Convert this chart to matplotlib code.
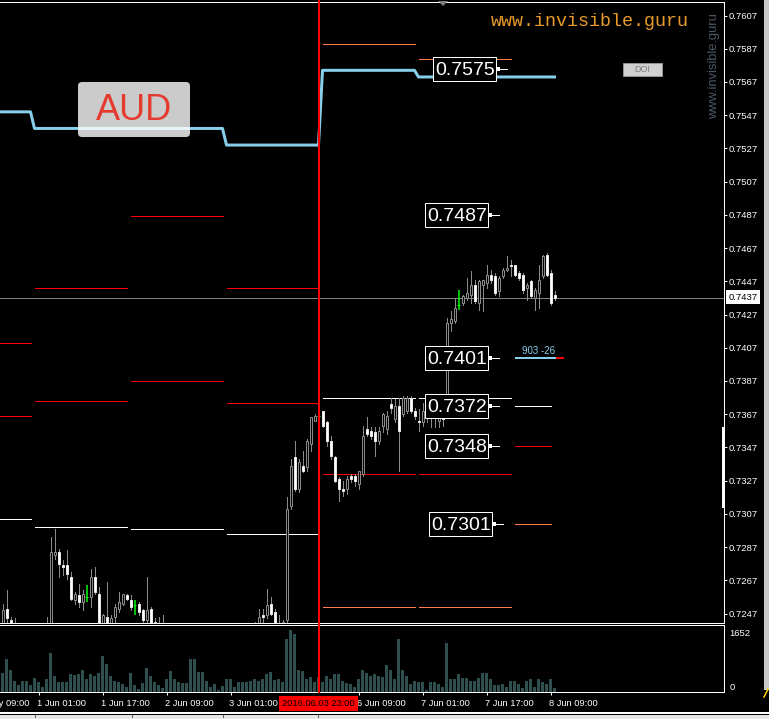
import matplotlib
matplotlib.use("Agg")
import matplotlib.pyplot as plt
import matplotlib.transforms as mtransforms
from matplotlib.patches import Rectangle, FancyBboxPatch, Polygon
from matplotlib.lines import Line2D

plt.rcParams['font.family'] = ['Liberation Sans', 'DejaVu Sans']

# ---------------- data (H1 bars, AUDUSD) ----------------
opens = [
0.7236, 0.7250, 0.7243, 0.7238, 0.7235, 0.7230, 0.7233, 0.7231, 0.7229, 0.7232,
0.7234, 0.7233, 0.7236, 0.7282, 0.7284, 0.7276, 0.7276, 0.7269, 0.7255, 0.7258,
0.7254, 0.7257, 0.7257, 0.7269, 0.7259, 0.7238, 0.7245, 0.7238, 0.7245, 0.7250,
0.7253, 0.7258, 0.7255, 0.7252, 0.7253, 0.7249, 0.7243, 0.7250, 0.7242, 0.7238,
0.7236, 0.7237, 0.7233, 0.7226, 0.7229, 0.7227, 0.7230, 0.7228, 0.7222, 0.7218,
0.7221, 0.7224, 0.7222, 0.7223, 0.7221, 0.7222, 0.7224, 0.7220, 0.7223, 0.7224,
0.7227, 0.7230, 0.7232, 0.7235, 0.7240, 0.7246, 0.7246, 0.7253, 0.7248, 0.7240,
0.7236, 0.7243, 0.7312, 0.7341, 0.7322, 0.7336, 0.7335, 0.7349, 0.7363, 0.7366,
0.7369, 0.7362, 0.7351, 0.7341, 0.7328, 0.7322, 0.7322, 0.7330, 0.7330, 0.7325,
0.7331, 0.7358, 0.7357, 0.7356, 0.7351, 0.7360, 0.7358, 0.7373, 0.7364, 0.7372,
0.7367, 0.7369, 0.7377, 0.7369, 0.7363, 0.7362, 0.7372, 0.7365, 0.7372, 0.7363,
0.7372, 0.7369, 0.7422, 0.7423, 0.7433, 0.7434, 0.7437, 0.7439, 0.7445, 0.7434,
0.7445, 0.7446, 0.7451, 0.7450, 0.7441, 0.7450, 0.7454, 0.7457, 0.7457, 0.7452,
0.7451, 0.7443, 0.7447, 0.7437, 0.7440, 0.7450, 0.7463, 0.7452, 0.7439]

highs = [
0.7253, 0.7261, 0.7245, 0.7244, 0.7239, 0.7236, 0.7238, 0.7235, 0.7234, 0.7237,
0.7238, 0.7245, 0.7293, 0.7298, 0.7286, 0.7279, 0.7285, 0.7272, 0.7260, 0.7265,
0.7261, 0.7264, 0.7274, 0.7275, 0.7263, 0.7247, 0.7266, 0.7246, 0.7253, 0.7260,
0.7259, 0.7259, 0.7258, 0.7255, 0.7254, 0.7250, 0.7269, 0.7251, 0.7244, 0.7245,
0.7246, 0.7240, 0.7236, 0.7231, 0.7233, 0.7231, 0.7234, 0.7238, 0.7229, 0.7224,
0.7227, 0.7228, 0.7225, 0.7226, 0.7223, 0.7225, 0.7230, 0.7226, 0.7225, 0.7229,
0.7232, 0.7234, 0.7238, 0.7242, 0.7250, 0.7250, 0.7262, 0.7257, 0.7250, 0.7246,
0.7243, 0.7317, 0.7340, 0.7351, 0.7340, 0.7345, 0.7352, 0.7365, 0.7367, 0.7368,
0.7369, 0.7363, 0.7354, 0.7342, 0.7329, 0.7327, 0.7330, 0.7331, 0.7331, 0.7333,
0.7360, 0.7365, 0.7359, 0.7359, 0.7359, 0.7368, 0.7369, 0.7377, 0.7376, 0.7377,
0.7378, 0.7378, 0.7378, 0.7371, 0.7370, 0.7374, 0.7377, 0.7375, 0.7377, 0.7377,
0.7377, 0.7425, 0.7429, 0.7437, 0.7442, 0.7439, 0.7449, 0.7453, 0.7448, 0.7448,
0.7448, 0.7457, 0.7454, 0.7452, 0.7450, 0.7455, 0.7462, 0.7460, 0.7457, 0.7453,
0.7452, 0.7446, 0.7448, 0.7443, 0.7457, 0.7463, 0.7464, 0.7454, 0.7441]

lows = [
0.7230, 0.7238, 0.7236, 0.7230, 0.7228, 0.7226, 0.7229, 0.7227, 0.7224, 0.7228,
0.7230, 0.7229, 0.7232, 0.7280, 0.7269, 0.7270, 0.7268, 0.7255, 0.7253, 0.7251,
0.7249, 0.7254, 0.7251, 0.7259, 0.7236, 0.7234, 0.7233, 0.7235, 0.7242, 0.7248,
0.7252, 0.7255, 0.7249, 0.7246, 0.7246, 0.7241, 0.7241, 0.7236, 0.7234, 0.7231,
0.7230, 0.7231, 0.7224, 0.7222, 0.7225, 0.7223, 0.7226, 0.7219, 0.7213, 0.7212,
0.7215, 0.7220, 0.7219, 0.7219, 0.7219, 0.7220, 0.7218, 0.7216, 0.7221, 0.7221,
0.7224, 0.7227, 0.7229, 0.7231, 0.7236, 0.7242, 0.7244, 0.7246, 0.7236, 0.7232,
0.7233, 0.7241, 0.7310, 0.7321, 0.7320, 0.7332, 0.7333, 0.7345, 0.7363, 0.7364,
0.7359, 0.7348, 0.7340, 0.7326, 0.7315, 0.7318, 0.7319, 0.7326, 0.7324, 0.7322,
0.7330, 0.7354, 0.7352, 0.7342, 0.7349, 0.7356, 0.7355, 0.7368, 0.7362, 0.7333,
0.7366, 0.7368, 0.7368, 0.7364, 0.7357, 0.7360, 0.7362, 0.7359, 0.7359, 0.7359,
0.7360, 0.7365, 0.7417, 0.7422, 0.7430, 0.7433, 0.7436, 0.7434, 0.7434, 0.7430,
0.7429, 0.7443, 0.7446, 0.7439, 0.7438, 0.7449, 0.7453, 0.7450, 0.7450, 0.7448,
0.7440, 0.7436, 0.7437, 0.7430, 0.7431, 0.7449, 0.7450, 0.7433, 0.7436]

closes = [
0.7249, 0.7244, 0.7241, 0.7235, 0.7230, 0.7233, 0.7231, 0.7229, 0.7232, 0.7234,
0.7233, 0.7238, 0.7284, 0.7284, 0.7277, 0.7275, 0.7271, 0.7256, 0.7259, 0.7254,
0.7259, 0.7257, 0.7269, 0.7260, 0.7240, 0.7246, 0.7238, 0.7244, 0.7251, 0.7254,
0.7259, 0.7256, 0.7251, 0.7252, 0.7248, 0.7243, 0.7249, 0.7240, 0.7239, 0.7236,
0.7237, 0.7233, 0.7226, 0.7229, 0.7227, 0.7230, 0.7228, 0.7222, 0.7218, 0.7221,
0.7224, 0.7222, 0.7223, 0.7221, 0.7222, 0.7224, 0.7220, 0.7223, 0.7224, 0.7227,
0.7230, 0.7232, 0.7235, 0.7238, 0.7245, 0.7245, 0.7252, 0.7247, 0.7240, 0.7238,
0.7242, 0.7310, 0.7336, 0.7322, 0.7338, 0.7333, 0.7351, 0.7365, 0.7366, 0.7366,
0.7360, 0.7351, 0.7342, 0.7327, 0.7322, 0.7321, 0.7328, 0.7328, 0.7327, 0.7333,
0.7354, 0.7355, 0.7354, 0.7351, 0.7357, 0.7367, 0.7366, 0.7371, 0.7372, 0.7357,
0.7377, 0.7377, 0.7369, 0.7366, 0.7362, 0.7369, 0.7366, 0.7370, 0.7366, 0.7369,
0.7364, 0.7422, 0.7424, 0.7431, 0.7433, 0.7438, 0.7440, 0.7445, 0.7435, 0.7447,
0.7448, 0.7451, 0.7448, 0.7440, 0.7449, 0.7454, 0.7455, 0.7456, 0.7451, 0.7449,
0.7442, 0.7445, 0.7438, 0.7442, 0.7448, 0.7462, 0.7451, 0.7434, 0.7437]

volumes = [
489, 853, 560, 293, 160, 293, 293, 160, 355, 266,
115, 320, 1039, 426, 240, 240, 266, 453, 435, 471,
560, 346, 462, 400, 489, 959, 720, 426, 293, 266,
187, 115, 506, 178, 71, 222, 613, 400, 249, 160,
89, 320, 533, 346, 240, 222, 222, 853, 853, 515,
515, 284, 133, 187, 53, 142, 346, 346, 115, 266,
249, 249, 275, 346, 275, 320, 453, 515, 302, 320,
266, 1412, 1652, 1537, 586, 542, 346, 382, 266, 382,
249, 400, 346, 453, 453, 293, 222, 204, 115, 320,
586, 480, 426, 453, 426, 382, 693, 560, 346, 1386,
586, 400, 187, 293, 266, 240, 53, 240, 266, 213,
107, 1279, 320, 320, 453, 373, 373, 293, 293, 373,
506, 506, 346, 160, 160, 213, 107, 293, 293, 187,
80, 293, 320, 133, 346, 240, 187, 346, 80]

# trading days (bar index ranges)
day_first_bar = [0, 8, 32, 56, 80, 104, 128]
day_last_bar = [7, 31, 55, 79, 103, 127, 137]
# light-blue indicator, one value per day
blue_by_day = [0.7549, 0.7539, 0.7539, 0.7529, 0.7574, 0.7570, 0.7570]

# daily levels: day number, price, kind (r=red, w=white, c=coral)
level_day = [0, 0, 0, 1, 1, 1, 2, 2, 2, 3, 3, 3, 4, 4, 4, 4, 5, 5, 5, 5, 6, 6, 6]
level_price = [0.7410, 0.7366, 0.7304, 0.7443, 0.7375, 0.7299, 0.7486, 0.7387, 0.7298,
               0.7443, 0.7374, 0.7295, 0.7590, 0.7377, 0.7331, 0.7251,
               0.7581, 0.7377, 0.7331, 0.7251, 0.7372, 0.7348, 0.7301]
level_kind = ['r', 'r', 'w', 'r', 'r', 'w', 'r', 'r', 'w', 'r', 'r', 'w',
              'c', 'w', 'r', 'c', 'c', 'w', 'r', 'c', 'w', 'r', 'c']

box_labels = [0.7575, 0.7487, 0.7401, 0.7372, 0.7348, 0.7301]

price_ticks = [0.7247, 0.7267, 0.7287, 0.7307, 0.7327, 0.7347, 0.7367, 0.7387, 0.7407,
               0.7427, 0.7447, 0.7467, 0.7487, 0.7507, 0.7527, 0.7547, 0.7567, 0.7587, 0.7607]

time_tick_bars = [-7, 9, 25, 41, 57, 89, 105, 121, 137]
time_tick_labels = ['31 May 09:00', '1 Jun 01:00', '1 Jun 17:00', '2 Jun 09:00', '3 Jun 01:00',
                    '6 Jun 09:00', '7 Jun 01:00', '7 Jun 17:00', '8 Jun 09:00']

current_price = 0.7437
marker_bar = 79
marker_label = '2016.06.03 23:00'
indicator_level = 0.7401
indicator_text = '903 -26'
volume_max_label = 1652
symbol = 'AUD'
site = 'www.invisible.guru'

# ---------------- layout ----------------
W, H, DPI = 769, 719, 100
PX = 72.0 / DPI
fig = plt.figure(figsize=(W / DPI, H / DPI), dpi=DPI, facecolor='black')
pix = mtransforms.Affine2D().scale(1, -1).translate(0, H)

def fy(py):
    return 1 - py / H

MAIN_TOP, MAIN_BOT = 1.5, 622.5
VOL_TOP, VOL_BOT = 624.5, 691.5
RIGHT = 723.5
ax = fig.add_axes([0, fy(MAIN_BOT), RIGHT / W, (MAIN_BOT - MAIN_TOP) / H])
axv = fig.add_axes([0, fy(VOL_BOT), RIGHT / W, (VOL_BOT - VOL_TOP) / H])
for a in (ax, axv):
    a.set_facecolor('black')
    a.spines['left'].set_visible(False)
    for s in ('top', 'right', 'bottom'):
        a.spines[s].set_color('white')
        a.spines[s].set_linewidth(PX)

# x: bar i centered at pixel 2.5 + 4 i
XU = 4.0  # pixels per bar
xl = (0 - 2.5) / XU
xr = (RIGHT - 2.5) / XU
ax.set_xlim(xl, xr)
axv.set_xlim(xl, xr)
# y: 0.7607 at pixel 15.5, 0.7247 at 613.5
PPX = (0.7607 - 0.7247) / 598.0
ax.set_ylim(0.7607 - (MAIN_BOT - 15.5) * PPX, 0.7607 + (15.5 - MAIN_TOP) * PPX)
axv.set_ylim(0, volume_max_label * (VOL_BOT - VOL_TOP) / 62.0)

n = len(opens)
idx = list(range(n))
bull = [i for i in idx if closes[i] > opens[i]]
bear = [i for i in idx if closes[i] < opens[i]]
doji = [i for i in idx if closes[i] == opens[i]]
nond = bull + bear

# current price line
ax.axhline(current_price, color='#808080', lw=PX, zorder=1.5, antialiased=False)

# daily levels
kind_color = {'r': '#ff0000', 'w': '#ffffff', 'c': '#ff7f50'}
for d, p, k in zip(level_day, level_price, level_kind):
    x0 = day_first_bar[d] if d > 0 else xl
    ax.hlines(p, x0, day_last_bar[d], colors=kind_color[k], lw=PX, zorder=2, antialiased=False)

# candles
GRAY = '#8a8a8a'
ax.vlines(nond, [lows[i] for i in nond], [highs[i] for i in nond], colors=GRAY, lw=PX, zorder=3,
          antialiased=False)
ax.bar(bull, [closes[i] - opens[i] for i in bull], bottom=[opens[i] for i in bull], width=0.5,
       facecolor='black', edgecolor=GRAY, lw=PX, zorder=4)
ax.bar(bear, [opens[i] - closes[i] for i in bear], bottom=[closes[i] for i in bear], width=0.5,
       facecolor='white', edgecolor='#e6e6e6', lw=PX, zorder=4)
ax.vlines(doji, [lows[i] for i in doji], [highs[i] for i in doji], colors='#00ff00', lw=PX * 1.5, zorder=4)
ax.hlines([opens[i] for i in doji], [i - 0.4 for i in doji], [i + 0.4 for i in doji],
          colors='#00ff00', lw=PX, zorder=4)

# light-blue indicator line
bx, by = [xl], [blue_by_day[0]]
for d in range(len(day_first_bar)):
    for i in range(day_first_bar[d], day_last_bar[d] + 1):
        bx.append(i)
        by.append(blue_by_day[d])
bx.append(n - 1)
by.append(blue_by_day[-1])
ax.plot(bx, by, color='#87ceeb', lw=3 * PX, zorder=5, solid_joinstyle='round')

# indicator mark near last bars
ax.hlines(indicator_level, 128, 138.25, colors='#87ceeb', lw=2 * PX, zorder=5)
ax.hlines(indicator_level, 138.25, 140.25, colors='#ff0000', lw=2 * PX, zorder=5)
ax.annotate(indicator_text, xy=(134, indicator_level), xytext=(0, 1.5), textcoords='offset points',
            ha='center', va='bottom', color='#87ceeb', fontsize=7, zorder=6)

# boxed level labels (box 63 x 24 px)
box_x = [115.6, 113.6, 113.6, 113.6, 113.6, 114.6]
BW, BH = 63 / XU, 24 * PPX
for v, xc in zip(box_labels, box_x):
    ax.add_patch(Rectangle((xc - BW / 2, v - BH / 2), BW, BH, fc='black', ec='white', lw=PX, zorder=7))
    ax.text(xc, v, f'{v:.4f}', ha='center', va='center_baseline', color='white', fontsize=14, zorder=8)
    ax.plot([xc + 8.3, xc + 10.6], [v, v], color='white', lw=PX, zorder=8)
    ax.plot([xc + 8.3], [v], marker='s', ms=3, color='white', mew=0, zorder=8)

# price axis
ax.yaxis.tick_right()
ax.set_yticks(price_ticks)
ax.set_yticklabels([f'{p:.4f}' for p in price_ticks])
ax.tick_params(axis='y', colors='white', labelsize=6.8, length=3 * PX, width=PX, pad=2 * PX)
ax.set_xticks([])

# volume panel
axv.bar(idx, volumes, width=0.75, color='#2f4f4f', zorder=2)
axv.yaxis.tick_right()
axv.set_yticks([0, volume_max_label])
axv.set_yticklabels(['0', str(volume_max_label)])
axv.tick_params(axis='y', colors='white', labelsize=6.8, length=0, pad=6 * PX)
lbls = axv.get_yticklabels()
lbls[0].set_va('bottom')
lbls[1].set_va('top')
vis_ticks = [b for b in time_tick_bars if xl <= b <= xr]
axv.set_xticks(vis_ticks)
axv.set_xticklabels([''] * len(vis_ticks))
axv.tick_params(axis='x', colors='white', length=3 * PX, width=PX, direction='out')

tx = mtransforms.blended_transform_factory(ax.transData, pix)
for b, lab in zip(time_tick_bars, time_tick_labels):
    fig.text(b - 0.3, 703, lab, transform=tx, ha='left', va='center', color='white', fontsize=6.7)
fig.text(marker_bar, 703.5, marker_label, transform=tx, ha='center', va='center', color='black',
         fontsize=6.7, zorder=5, bbox=dict(boxstyle='square,pad=0.32', fc='#ff0000', ec='none'))

# vertical red marker line
fig.add_artist(Line2D([marker_bar, marker_bar], [0, 692], transform=tx, color='#ff0000', lw=2 * PX, zorder=4))

# current price tag
fig.text(743, 297, f'{current_price:.4f}', transform=pix, ha='center', va='center', color='black',
         fontsize=6.8, zorder=5, bbox=dict(boxstyle='square,pad=0.25', fc='white', ec='none'))

# symbol box
fig.add_artist(FancyBboxPatch((78, 82), 112, 55, transform=pix, boxstyle='round,pad=0,rounding_size=4',
                              fc='white', alpha=0.8, ec='none', zorder=3))
fig.text(134, 110, symbol, transform=pix, ha='center', va='center', color='#e53a2e', fontsize=26, zorder=4)

# site texts
fig.text(491, 22, site, transform=pix, ha='left', va='center', color='#e89b2c', fontsize=13.2,
         family='Liberation Mono')
fig.text(714, 66, site, transform=pix, ha='center', va='center', rotation=90, color='#4d5966', fontsize=9.3)

# DOI button
fig.add_artist(Rectangle((623, 63), 39, 13, transform=pix, fc='#d0d0d0', ec='#909090', lw=PX, zorder=3))
fig.text(642.5, 70, 'DOI', transform=pix, ha='center', va='center', color='#808080', fontsize=6.5, zorder=4)

# chart shift triangle
fig.add_artist(Polygon([(438, 1), (448, 1), (443, 6)], closed=True, transform=pix, fc='#808080', ec='none'))

# right-axis highlight bar
fig.add_artist(Line2D([723, 723], [428, 506], transform=pix, color='white', lw=3 * PX))

# window frame pieces
fig.add_artist(Rectangle((763.5, 0), 6, 690, transform=pix, fc='#c8c8c8', ec='none'))
fig.add_artist(Line2D([0, W], [713, 713], transform=pix, color='white', lw=2 * PX))
fig.add_artist(Rectangle((0, 714.5), W, 5, transform=pix, fc='#e6e6e6', ec='none'))
for xt in (35, 132, 223, 318):
    fig.add_artist(Line2D([xt, xt], [715, 717], transform=pix, color='#606060', lw=PX))
fig.add_artist(Line2D([764, 768], [697, 689], transform=pix, color='#ffd700', lw=1.5 * PX))

fig.savefig('out.png', dpi=DPI, facecolor='black')
